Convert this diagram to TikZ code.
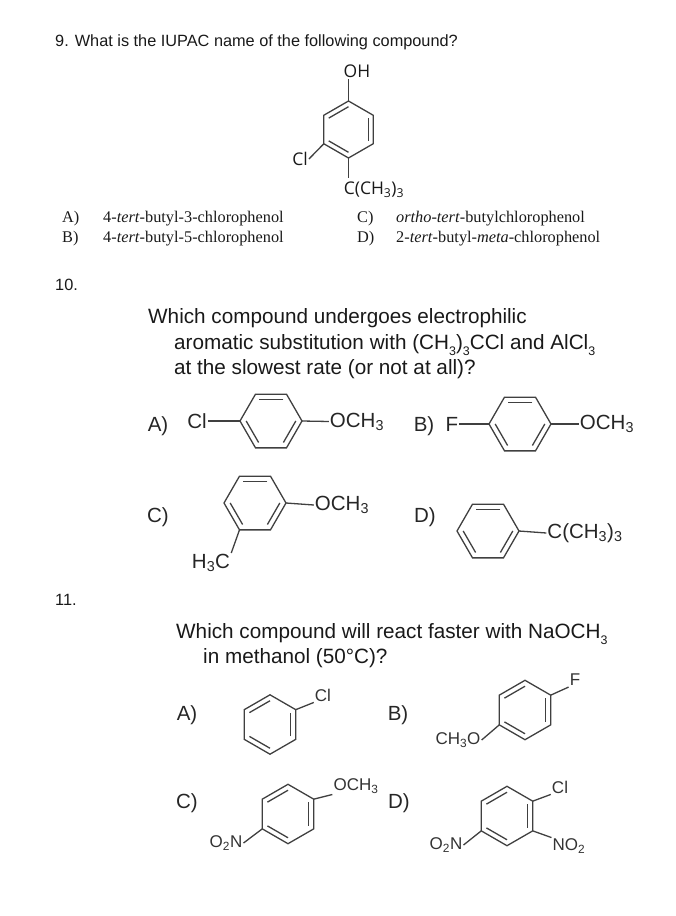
\documentclass[tikz,border=0pt]{standalone}
\usepackage{fontspec}
\setmainfont{Liberation Sans}
\newfontfamily\optfont{Liberation Serif}
\newfontfamily\ninefont{Open Sans}
\usepackage{tikz}
\newcommand{\lowsub}[1]{\raisebox{-0.3em}{\scalebox{0.6}{#1}}}
\newcommand{\Benzene}[5]{%
  \foreach \k in {1,...,6} {
    \coordinate (#1\k) at ({#2+#4*cos(#5+60*(\k-1))},{#3-#4*sin(#5+60*(\k-1))});
    \coordinate (#1i\k) at ({#2+0.8*#4*cos(#5+60*(\k-1))},{#3-0.8*#4*sin(#5+60*(\k-1))});
  }
  \draw[bond,line join=miter] (#11) -- (#12) -- (#13) -- (#14) -- (#15) -- (#16) -- cycle;
  \draw[bond] (#1i1) -- (#1i2);
  \draw[bond] (#1i3) -- (#1i4);
  \draw[bond] (#1i5) -- (#1i6);
}
\tikzset{
  bond/.style={draw=black!75,line width=1.3pt},
  qtext/.style={anchor=base west,inner sep=0pt,text=black!90,font=\fontsize{20.7}{22}\selectfont},
  stem/.style={anchor=base west,inner sep=0pt,text=black!90,font=\fontsize{16.3}{18}\selectfont},
  opt/.style={anchor=base west,inner sep=0pt,text=black!90,font=\optfont\fontsize{16.3}{18}\selectfont},
  mark9/.style={inner sep=1pt,text=black!90,font=\ninefont\fontsize{17.5}{19}\selectfont},
  markten/.style={inner sep=1pt,text=black!85,font=\fontsize{20.5}{22}\selectfont},
  markel/.style={inner sep=1pt,text=black!80,font=\fontsize{17}{19}\selectfont},
}
\begin{document}
\begin{tikzpicture}[x=1pt,y=-1pt]
\useasboundingbox (0,0) rectangle (675,916);
\node[stem] (t9) at (55,46) {9. What is the IUPAC name of the following compound?};
\node[stem] (t10) at (55,290) {10.};
\node[stem] (t11) at (55,605) {11.};
\node[opt] (o9a) at (62,222) {A)};
\node[opt] (o9b) at (62,242) {B)};
\node[opt] (o9c) at (357,222) {C)};
\node[opt] (o9d) at (357,242) {D)};
\node[opt] (n9a) at (103,222) {4-\textit{tert}-butyl-3-chlorophenol};
\node[opt] (n9b) at (103,242) {4-\textit{tert}-butyl-5-chlorophenol};
\node[opt] (n9c) at (396,222) {\textit{ortho}-\textit{tert}-butylchlorophenol};
\node[opt] (n9d) at (396,242) {2-\textit{tert}-butyl-\textit{meta}-chlorophenol};
\Benzene{r}{348.5}{129.5}{28.5}{90}
\node[mark9] (oh) at (357,71) {OH};
\node[mark9] (cl) at (300,159) {Cl};
\node[mark9] (tb) at (374,190) {C(CH\textsubscript{3})\textsubscript{3}};
\coordinate (tbt) at (348.5,178);
\draw[bond] (r1) -- (oh.south -| r1);
\draw[bond] (r3) -- (cl.east);
\draw[bond] (r4) -- (tbt);
\node[qtext] (q10a) at (148,323) {Which compound undergoes electrophilic};
\node[qtext] (q10b) at (174,349) {aromatic substitution with (CH\lowsub{3})\lowsub{3}CCl and AlCl\lowsub{3}};
\node[qtext] (q10c) at (174,374) {at the slowest rate (or not at all)?};
\node[markten] (la) at (158,426) {A)};
\node[markten] (lb) at (424,426) {B)};
\node[markten] (lc) at (158,517) {C)};
\node[markten] (ld) at (425,517) {D)};
\Benzene{a}{271}{421}{31}{60}
\node[markten] (acl) at (197,421) {Cl};
\node[markten] (ame) at (357,422) {OCH\textsubscript{3}};
\draw[bond] (acl) -- (a3);
\draw[bond] (a6) -- (ame);
\Benzene{b}{520}{424}{31}{60}
\node[markten] (bf) at (452,424) {F};
\node[markten] (bme) at (607,424) {OCH\textsubscript{3}};
\draw[bond] (bf) -- (b3);
\draw[bond] (b6) -- (bme);
\Benzene{c}{255}{503}{31}{60}
\node[markten] (cme) at (342,505) {OCH\textsubscript{3}};
\node[markten] (cch) at (211,563) {H\textsubscript{3}C};
\draw[bond] (c6) -- (cme.west);
\draw[bond] (c4) -- (cch.north east);
\Benzene{d}{488}{531}{31}{60}
\node[markten] (dtb) at (585,533) {C(CH\textsubscript{3})\textsubscript{3}};
\draw[bond] (d6) -- (dtb.west);
\node[qtext] (q11a) at (176,638) {Which compound will react faster with NaOCH\lowsub{3}};
\node[qtext] (q11b) at (203,663) {in methanol (50°C)?};
\node[markten] (l1a) at (187,715) {A)};
\node[markten] (l1b) at (398,715) {B)};
\node[markten] (l1c) at (187,803) {C)};
\node[markten] (l1d) at (399,803) {D)};
\Benzene{e}{270}{724.5}{29.7}{90}
\node[markel] (ecl) at (323,695) {Cl};
\draw[bond] (e6) -- (ecl.south west);
\Benzene{f}{525}{710}{29.7}{90}
\node[markel] (ff) at (575,680) {F};
\node[markel] (fme) at (458,740) {CH\textsubscript{3}O};
\draw[bond] (f6) -- (ff.south west);
\draw[bond] (f3) -- (fme.east);
\Benzene{g}{288}{814}{29.7}{90}
\node[markel] (gme) at (356,786) {OCH\textsubscript{3}};
\node[markel] (gno) at (226,843) {O\textsubscript{2}N};
\draw[bond] (g6) -- (gme.south west);
\draw[bond] (g3) -- (gno.east);
\Benzene{h}{507}{816}{29.7}{90}
\node[markel] (hcl) at (560,787) {Cl};
\node[markel] (hon) at (446,845) {O\textsubscript{2}N};
\node[markel] (hno) at (569,846) {NO\textsubscript{2}};
\draw[bond] (h6) -- (hcl.south west);
\draw[bond] (h3) -- (hon.east);
\draw[bond] (h5) -- (hno.north west);
\end{tikzpicture}
\end{document}
